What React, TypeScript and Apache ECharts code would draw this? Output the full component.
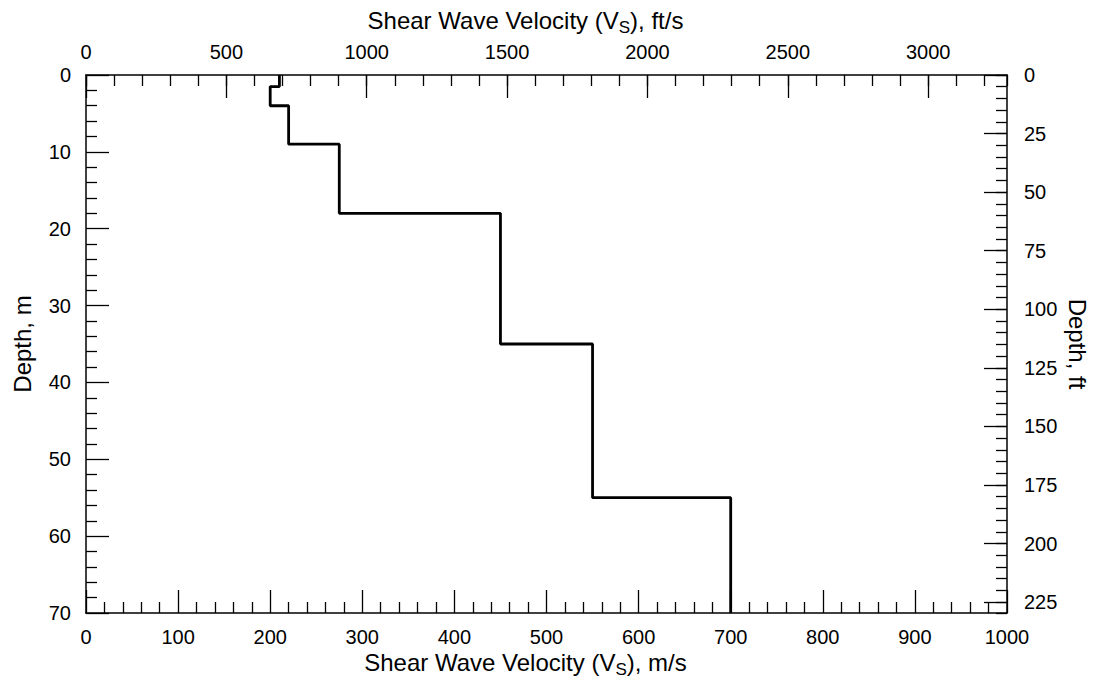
import React, { useEffect, useRef } from 'react';
import * as echarts from 'echarts';

// Layered shear-wave velocity profile (SI units)
const layerTopM = [0, 1.5, 4, 9, 18, 35, 55];
const layerBottomM = [1.5, 4, 9, 18, 35, 55, 70];
const layerVsMs = [210, 200, 220, 275, 450, 550, 700];

// Axis ranges / tick steps
const vsRangeMs = [0, 1000];
const depthRangeM = [0, 70];
const FT_PER_M = 3.28084;
const vsMajorMs = 100;
const depthMajorM = 10;
const vsMajorFt = 500;
const vsMinorFt = 100;
const depthMajorFt = 25;
const depthMinorFt = 5;

const FONT = "'Liberation Sans', Arial, Helvetica, sans-serif";

function buildProfile(): number[][] {
  const out: number[][] = [];
  for (let i = 0; i < layerVsMs.length; i++) {
    out.push([layerVsMs[i], layerTopM[i]]);
    out.push([layerVsMs[i], layerBottomM[i]]);
  }
  return out;
}

const lineBlack = { color: '#000', width: 1.5 };
const tickBlack = { color: '#000', width: 1.3 };
const plain = (v: number) => String(Math.round(v));
const labelStyle = { fontSize: 20, color: '#000', fontFamily: FONT, formatter: plain };
const titleRich = {
  n: { fontSize: 24, color: '#000', fontFamily: FONT, lineHeight: 26 },
  s: { fontSize: 17, color: '#000', fontFamily: FONT, padding: [14, 0, 0, 0], lineHeight: 6 },
};

export default function App() {
  const ref = useRef<HTMLDivElement>(null);
  useEffect(() => {
    if (!ref.current) return;
    const chart = echarts.init(ref.current, undefined, { renderer: 'svg' });
    const ftMaxV = vsRangeMs[1] * FT_PER_M;
    const ftMaxD = depthRangeM[1] * FT_PER_M;
    const axLine = { show: true, onZero: false, lineStyle: lineBlack };
    chart.setOption({
      animation: false,
      backgroundColor: '#fff',
      grid: { left: 86, right: 93, top: 75, bottom: 66, outerBoundsMode: 'none' },
      xAxis: [
        {
          type: 'value', position: 'bottom', min: vsRangeMs[0], max: vsRangeMs[1], interval: vsMajorMs,
          axisLine: axLine,
          axisTick: { show: true, inside: true, length: 23, lineStyle: tickBlack },
          minorTick: { show: true, splitNumber: 5, length: 11, lineStyle: tickBlack },
          splitLine: { show: false }, minorSplitLine: { show: false },
          axisLabel: { ...labelStyle, margin: 14 },
          name: '{n|Shear Wave Velocity (V}{s|S}{n|), m/s}',
          nameLocation: 'middle', nameGap: 36, nameMoveOverlap: false,
          nameTextStyle: { rich: titleRich, padding: [0, 42, 0, 0] },
        },
        {
          type: 'value', position: 'top', min: 0, max: ftMaxV, interval: vsMajorFt,
          axisLine: axLine,
          axisTick: { show: true, inside: true, length: 23, lineStyle: tickBlack },
          splitLine: { show: false },
          axisLabel: { ...labelStyle, margin: 13, showMaxLabel: false },
          name: '{n|Shear Wave Velocity (V}{s|S}{n|), ft/s}',
          nameLocation: 'middle', nameGap: 42, nameMoveOverlap: false,
          nameTextStyle: { rich: titleRich, padding: [0, 42, 0, 0] },
        },
        {
          type: 'value', position: 'top', min: 0, max: ftMaxV, interval: vsMinorFt,
          axisLine: { show: false, onZero: false },
          axisTick: { show: true, inside: true, length: 11, lineStyle: tickBlack },
          splitLine: { show: false },
          axisLabel: { show: false },
        },
      ],
      yAxis: [
        {
          type: 'value', position: 'left', inverse: true, min: depthRangeM[0], max: depthRangeM[1], interval: depthMajorM,
          axisLine: axLine,
          axisTick: { show: true, inside: true, length: 23, lineStyle: tickBlack },
          minorTick: { show: true, splitNumber: 5, length: 11, lineStyle: tickBlack },
          splitLine: { show: false }, minorSplitLine: { show: false },
          axisLabel: { ...labelStyle, margin: 15 },
          name: 'Depth, m', nameLocation: 'middle', nameGap: 52, nameRotate: 90, nameMoveOverlap: false,
          nameTextStyle: { fontSize: 24, color: '#000', fontFamily: FONT },
        },
        {
          type: 'value', position: 'right', inverse: true, min: 0, max: ftMaxD, interval: depthMajorFt,
          axisLine: axLine,
          axisTick: { show: true, inside: true, length: 23, lineStyle: tickBlack },
          splitLine: { show: false },
          axisLabel: { ...labelStyle, margin: 17, showMaxLabel: false },
          name: 'Depth, ft', nameLocation: 'middle', nameGap: 58, nameRotate: -90, nameMoveOverlap: false,
          nameTextStyle: { fontSize: 24, color: '#000', fontFamily: FONT },
        },
        {
          type: 'value', position: 'right', inverse: true, min: 0, max: ftMaxD, interval: depthMinorFt,
          axisLine: { show: false, onZero: false },
          axisTick: { show: true, inside: true, length: 11, lineStyle: tickBlack },
          splitLine: { show: false },
          axisLabel: { show: false },
        },
      ],
      series: [
        {
          type: 'line', xAxisIndex: 0, yAxisIndex: 0,
          data: buildProfile(),
          showSymbol: false, symbol: 'none',
          lineStyle: { color: '#000', width: 2.8 },
          clip: false,
        },
      ],
    });
    return () => chart.dispose();
  }, []);
  return <div ref={ref} style={{ position: 'absolute', left: 0, top: 0, width: 1100, height: 679 }} />;
}
